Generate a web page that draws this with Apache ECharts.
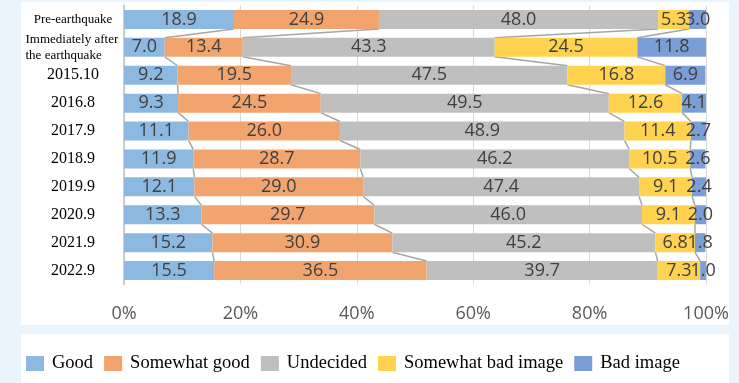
<!DOCTYPE html>
<html>
<head>
<meta charset="utf-8">
<script src="https://cdn.jsdelivr.net/npm/echarts@6/dist/echarts.min.js"></script>
<style>
  html, body { margin: 0; padding: 0; background: #eaf4fc; }
  #chart { width: 739px; height: 383px; }
</style>
</head>
<body>
<div id="chart"></div>
<script>
// Survey rows, top to bottom
const categories = ['Pre-earthquake', 'Immediately after the earthquake', '2015.10', '2016.8', '2017.9',
  '2018.9', '2019.9', '2020.9', '2021.9', '2022.9'];

// Share of answers per row (%)
const good         = [18.9, 7.0, 9.2, 9.3, 11.1, 11.9, 12.1, 13.3, 15.2, 15.5];
const somewhatGood = [24.9, 13.4, 19.5, 24.5, 26.0, 28.7, 29.0, 29.7, 30.9, 36.5];
const undecided    = [48.0, 43.3, 47.5, 49.5, 48.9, 46.2, 47.4, 46.0, 45.2, 39.7];
const somewhatBad  = [5.3, 24.5, 16.8, 12.6, 11.4, 10.5, 9.1, 9.1, 6.8, 7.3];
const bad          = [3.0, 11.8, 6.9, 4.1, 2.7, 2.6, 2.4, 2.0, 1.8, 1.0];

const seriesNames = ['Good', 'Somewhat good', 'Undecided', 'Somewhat bad image', 'Bad image'];
const tickLabels = ['0%', '20%', '40%', '60%', '80%', '100%'];

const seriesValues = [good, somewhatGood, undecided, somewhatBad, bad];
const colors = ['#8db9e0', '#f2a46e', '#bfbfbf', '#ffd24f', '#7b9ed7'];
const BAR_W = 19;

// Running totals: right edge of each segment in every row
const boundaries = categories.map((_, i) => {
  let acc = 0;
  return seriesValues.slice(0, 4).map(arr => (acc += arr[i]));
});

const chart = echarts.init(document.getElementById('chart'));

const barSeries = seriesNames.map((name, s) => ({
  name,
  type: 'bar',
  stack: 'total',
  barWidth: BAR_W,
  z: 3,
  itemStyle: { color: colors[s] },
  label: {
    show: true,
    position: 'inside',
    color: '#404040',
    fontFamily: 'Open Sans',
    fontSize: 18,
    formatter: p => p.value.toFixed(1)
  },
  data: seriesValues[s]
}));

// Series lines joining segment edges of consecutive bars
const connectorSeries = {
  type: 'custom',
  z: 2,
  silent: true,
  data: categories.slice(0, -1).map((_, i) => [i]),
  renderItem: (params, api) => {
    const i = api.value(0);
    const children = boundaries[i].map((v, k) => {
      const a = api.coord([v, i]);
      const b = api.coord([boundaries[i + 1][k], i + 1]);
      return {
        type: 'line',
        shape: { x1: a[0], y1: a[1] + BAR_W / 2, x2: b[0], y2: b[1] - BAR_W / 2 },
        style: { stroke: '#a6a6a6', lineWidth: 1.5 }
      };
    });
    return { type: 'group', children };
  }
};

chart.setOption({
  backgroundColor: '#eaf4fc',
  animation: false,
  graphic: [
    { type: 'rect', z: -100, shape: { x: 21, y: 2, width: 708, height: 323 }, style: { fill: '#ffffff' } },
    { type: 'rect', z: -100, shape: { x: 21, y: 334, width: 708, height: 49 }, style: { fill: '#ffffff' } }
  ],
  grid: { left: 124, right: 33, top: 5.5, height: 279, containLabel: false },
  legend: {
    left: 26,
    top: 354,
    padding: 0,
    itemWidth: 18,
    itemHeight: 15,
    itemGap: 11,
    icon: 'rect',
    data: seriesNames,
    textStyle: { fontFamily: 'Liberation Serif', fontSize: 18.5, color: '#000', padding: [0, 0, 0, 3] }
  },
  xAxis: {
    type: 'value',
    min: 0,
    max: 100,
    interval: 20,
    axisLine: { show: false },
    axisTick: { show: false },
    splitLine: { lineStyle: { color: '#d9d9d9', width: 1 } },
    axisLabel: {
      margin: 20,
      color: '#595959',
      fontFamily: 'Open Sans',
      fontSize: 18,
      formatter: v => tickLabels[Math.round(v / 20)]
    }
  },
  yAxis: {
    type: 'category',
    inverse: true,
    data: categories,
    axisLine: { show: true, lineStyle: { color: '#bfbfbf', width: 1.5 } },
    axisTick: { show: false },
    axisLabel: {
      align: 'center',
      margin: 51,
      color: '#000',
      fontFamily: 'Liberation Serif',
      fontSize: 16,
      formatter: v => {
        if (v === 'Pre-earthquake') return '{s|' + v + '}';
        if (v.startsWith('Immediately')) return '{w|Immediately after}\n{w|the earthquake}';
        return v;
      },
      rich: {
        s: { fontFamily: 'Liberation Serif', fontSize: 13, color: '#000' },
        w: { fontFamily: 'Liberation Serif', fontSize: 13, color: '#000', width: 95, align: 'left', lineHeight: 16 }
      }
    }
  },
  series: [connectorSeries, ...barSeries]
});
</script>
</body>
</html>
